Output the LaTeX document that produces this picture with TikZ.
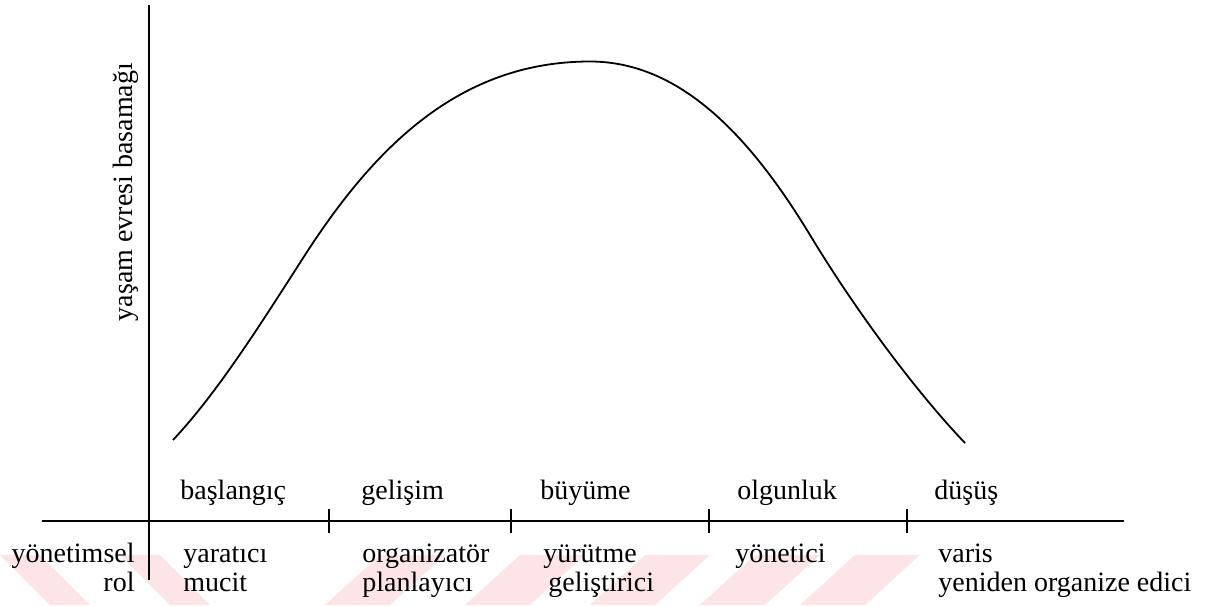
\documentclass[tikz,border=0pt]{standalone}
\usepackage{fontspec}
\setmainfont{Liberation Serif}
\usetikzlibrary{positioning}
\definecolor{wmpink}{RGB}{252,228,231}

\begin{document}
\begin{tikzpicture}[x=0.5pt, y=-0.5pt,
  lbl/.style={font=\fontsize{14}{16}\selectfont, inner sep=0pt, anchor=base west},
  rlbl/.style={lbl, anchor=base east}]
\useasboundingbox (0,0) rectangle (1219,605);

% Watermark stripes
\foreach \t in {0,120}{
  \fill[wmpink] (\t,555) -- (\t+40,555) -- (\t+90,605) -- (\t+50,605) -- cycle;
}
\foreach \b in {325,465,590,700,800}{
  \fill[wmpink] (\b,605) -- (\b+65,605) -- (\b+120,555) -- (\b+55,555) -- cycle;
}

% Axes
\coordinate (ytop) at (149,5);
\coordinate (ybot) at (149,580);
\coordinate (xleft) at (42,521);
\coordinate (xright) at (1124,521);
\draw[line width=0.7pt] (ytop) -- (ybot);
\draw[line width=0.7pt] (xleft) -- (xright);

% Stage ticks
\foreach \x in {329,511,709,907}{
  \draw[line width=0.9pt] (\x,509) -- (\x,533);
}

% Axis label
\node[font=\fontsize{14}{16}\selectfont, inner sep=0pt, rotate=90, anchor=base] (ylab) at (132,192) {yaşam evresi basamağı};

% Life cycle curve
\coordinate (cstart) at (173,440);
\coordinate (cup) at (305,255);
\coordinate (cpeak) at (590,61.5);
\coordinate (cdown) at (810,235);
\coordinate (cend) at (965,443);
\draw[line width=0.9pt] (cstart) .. controls (218,392) and (260,325) .. (cup)
  .. controls (375,146.5) and (460,61.5) .. (cpeak)
  .. controls (680,61.5) and (750,136) .. (cdown)
  .. controls (860,317.5) and (920,396) .. (cend);

% Stages
\node[lbl] (start) at (180,499) {başlangıç};
\node[lbl] (devel) at (361,499) {gelişim};
\node[lbl] (growth) at (540,499) {büyüme};
\node[lbl] (mature) at (737,499) {olgunluk};
\node[lbl] (decline) at (934,499) {düşüş};

% Managerial roles
\node[rlbl] (roleA) at (135,562) {yönetimsel};
\node[rlbl] (roleB) at (135,591) {rol};
\node[lbl] (creator) at (183,562) {yaratıcı};
\node[lbl] (inventor) at (183,591) {mucit};
\node[lbl] (organizer) at (362,562) {organizatör};
\node[lbl] (planner) at (362,591) {planlayıcı};
\node[lbl] (executor) at (543,562) {yürütme};
\node[lbl] (developer) at (548,591) {geliştirici};
\node[lbl] (manager) at (735,562) {yönetici};
\node[lbl] (heir) at (938,562) {varis};
\node[lbl] (reorg) at (938,591) {yeniden organize edici};

\end{tikzpicture}
\end{document}
